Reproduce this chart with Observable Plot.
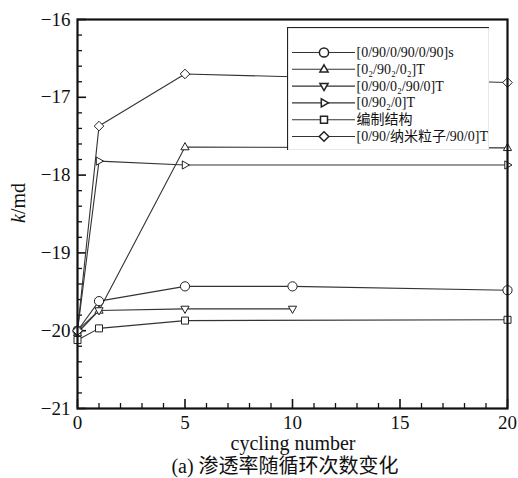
<!DOCTYPE html>
<html>
<head>
<meta charset="utf-8">
<script src="https://cdn.jsdelivr.net/npm/d3@7"></script>
<script src="https://cdn.jsdelivr.net/npm/@observablehq/plot@0.6"></script>
<style>
  html, body { margin: 0; padding: 0; background: #fff; }
  #wrap { position: relative; width: 518px; height: 478px; font-family: "Liberation Serif", "Times New Roman", "Noto Sans CJK SC", serif; }
  #chart, #legend { position: absolute; }
  #chart { left: 0; top: 0; }
  #legend { left: 287px; top: 27px; }
  .lbl { position: absolute; color: #111; white-space: nowrap; line-height: 1; }
  #ylab { left: 18px; top: 203px; transform: translate(-50%, -50%) rotate(-90deg); font-size: 20px; }
  #xlab { left: 293px; top: 443px; transform: translate(-50%, -50%); font-size: 20px; }
  #cap { left: 285px; top: 466px; transform: translate(-50%, -50%); font-size: 20px; }
  svg text { font-family: "Liberation Serif", "Times New Roman", "Noto Sans CJK SC", serif !important; }
</style>
</head>
<body>
<div id="wrap">
  <div id="chart"></div>
  <div id="legend"></div>
  <div class="lbl" id="ylab"><i>k</i>/md</div>
  <div class="lbl" id="xlab">cycling number</div>
  <div class="lbl" id="cap">(a) 渗透率随循环次数变化</div>
</div>
<script>
// ---- data ----
const seriesNames = [
  "[0/90/0/90/0/90]s",
  "[0\u2082/90\u2082/0\u2082]T",
  "[0/90/0\u2082/90/0]T",
  "[0/90\u2082/0]T",
  "编制结构",
  "[0/90/纳米粒子/90/0]T"
];
const xCircle   = [0, 1, 5, 10, 20];
const yCircle   = [-20.0, -19.62, -19.43, -19.43, -19.48];
const xTriUp    = [0, 1, 5, 20];
const yTriUp    = [-20.03, -19.74, -17.64, -17.65];
const xTriDown  = [0, 1, 5, 10];
const yTriDown  = [-20.0, -19.74, -19.72, -19.72];
const xTriRight = [0, 1, 5, 20];
const yTriRight = [-20.0, -17.82, -17.87, -17.87];
const xSquare   = [0, 1, 5, 20];
const ySquare   = [-20.12, -19.97, -19.87, -19.86];
const xDiamond  = [0, 1, 5, 20];
const yDiamond  = [-20.0, -17.37, -16.70, -16.81];

const xTicks = [0, 5, 10, 15, 20];
const yTicks = [-16, -17, -18, -19, -20, -21];

const seriesX = [xCircle, xTriUp, xTriDown, xTriRight, xSquare, xDiamond];
const seriesY = [yCircle, yTriUp, yTriDown, yTriRight, ySquare, yDiamond];

const rows = seriesNames.flatMap((name, i) =>
  seriesX[i].map((x, j) => ({series: name, x, y: seriesY[i][j]})));

// ---- symbols ----
const symCircle = {draw(c) { const r = 4.6; c.moveTo(r, 0); c.arc(0, 0, r, 0, 2 * Math.PI); c.closePath(); }};
const symTriUp = {draw(c) { c.moveTo(0, -4.5); c.lineTo(4.1, 2.7); c.lineTo(-4.1, 2.7); c.closePath(); }};
const symTriDown = {draw(c) { c.moveTo(0, 4.5); c.lineTo(4.1, -2.7); c.lineTo(-4.1, -2.7); c.closePath(); }};
const symTriRight = {draw(c) { c.moveTo(4.5, 0); c.lineTo(-2.7, 4.1); c.lineTo(-2.7, -4.1); c.closePath(); }};
const symSquare = {draw(c) { const s = 3.5; c.moveTo(-s, -s); c.lineTo(s, -s); c.lineTo(s, s); c.lineTo(-s, s); c.closePath(); }};
const symDiamond = {draw(c) { const s = 4.8; c.moveTo(0, -s); c.lineTo(s, 0); c.lineTo(0, s); c.lineTo(-s, 0); c.closePath(); }};
const symbols = [symCircle, symTriUp, symTriDown, symTriRight, symSquare, symDiamond];

const minorX = d3.range(0, 20.001, 1).filter(v => v % 5 !== 0);
const minorY = d3.range(-21, -15.999, 0.2).map(v => +v.toFixed(1)).filter(v => Math.abs(v - Math.round(v)) > 1e-6);
const fmt = d => String(d).replace("-", "\u2212");
const serif = '"Liberation Serif", "Times New Roman", serif';

const chart = Plot.plot({
  width: 518,
  height: 450,
  marginLeft: 77,
  marginRight: 11,
  marginTop: 19,
  marginBottom: 42,
  style: {fontFamily: serif, fontSize: "19px", color: "#111", background: "white"},
  x: {domain: [0, 20]},
  y: {domain: [-21, -16]},
  symbol: {domain: seriesNames, range: symbols},
  marks: [
    Plot.axisX({ticks: xTicks, tickSize: 0, tickPadding: 7, fontSize: 19, tickFormat: fmt, label: null}),
    Plot.axisX({ticks: xTicks, tickSize: -9, strokeWidth: 1.6, tickFormat: () => "", label: null}),
    Plot.axisX({ticks: minorX, tickSize: -5, strokeWidth: 1.3, tickFormat: () => "", label: null}),
    Plot.axisY({ticks: yTicks, tickSize: 0, tickPadding: 7, fontSize: 19, tickFormat: fmt, label: null}),
    Plot.axisY({ticks: yTicks, tickSize: -9, strokeWidth: 1.6, tickFormat: () => "", label: null}),
    Plot.axisY({ticks: minorY, tickSize: -5, strokeWidth: 1.3, tickFormat: () => "", label: null}),
    Plot.line(rows, {x: "x", y: "y", z: "series", stroke: "#333", strokeWidth: 1.1}),
    Plot.dot(rows, {x: "x", y: "y", symbol: "series", stroke: "#222", strokeWidth: 1, fill: "white"}),
    Plot.frame({stroke: "#111", strokeWidth: 2.2})
  ]
});
document.getElementById("chart").append(chart);

// ---- legend ----
const legendRows = seriesNames.map((name, i) => ({series: name, i}));
const legend = Plot.plot({
  width: 202,
  height: 123,
  margin: 0,
  style: {fontFamily: serif, fontSize: "14px", color: "#111", background: "white"},
  x: {domain: [0, 1], range: [5, 68], axis: null},
  y: {domain: [0, 5], range: [25, 109], axis: null},
  symbol: {domain: seriesNames, range: symbols},
  marks: [
    Plot.frame({stroke: "#222", strokeWidth: 1.2}),
    Plot.ruleY(legendRows, {y: "i", x1: 0, x2: 1, stroke: "#333", strokeWidth: 1.1}),
    Plot.dot(legendRows, {x: 0.5, y: "i", symbol: "series", stroke: "#222", fill: "white"}),
    Plot.text(legendRows, {x: 1, y: "i", text: "series", textAnchor: "start", dx: 1, fontSize: 14, fill: "#111"})
  ]
});
document.getElementById("legend").append(legend);
</script>
</body>
</html>
